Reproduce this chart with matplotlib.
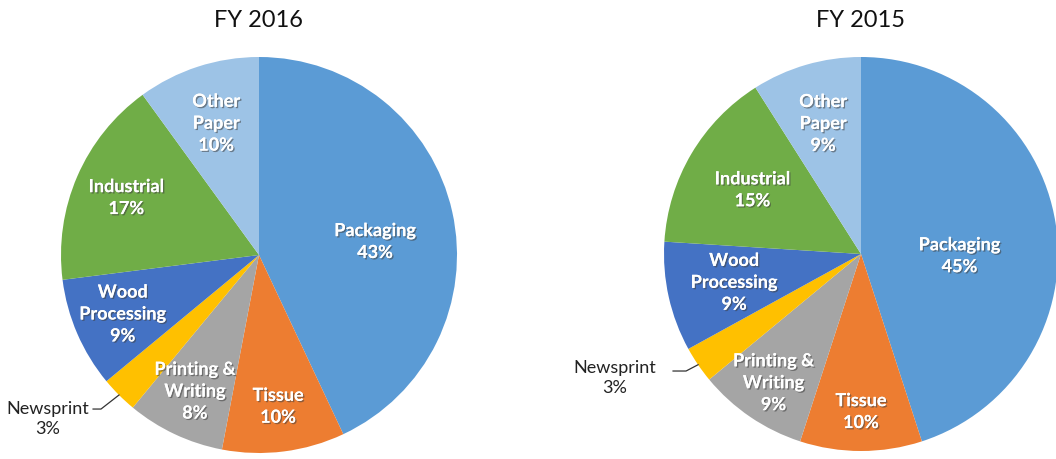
import matplotlib
matplotlib.use("Agg")
import matplotlib.pyplot as plt
import matplotlib.patheffects as pe
import numpy as np

# data
segments = ["Packaging", "Tissue", "Printing &\nWriting", "Newsprint",
            "Wood\nProcessing", "Industrial", "Other\nPaper"]
share_2016 = [43, 10, 8, 3, 9, 17, 10]
share_2015 = [45, 10, 9, 3, 9, 15, 9]
years = ["FY 2016", "FY 2015"]

colors = ["#5B9BD5", "#ED7D31", "#A5A5A5", "#FFC000", "#4472C4", "#70AD47", "#9DC3E6"]

plt.rcParams["font.family"] = ["Lato", "DejaVu Sans"]

fig = plt.figure(figsize=(10.56, 4.6), dpi=100)

# axes boxes in pixel terms (left, bottom, size) -> fractions
boxes = [(61, 6, 396), (664, 8, 394)]
# label radius per slice, angle nudge for big slice, outside label spot for Newsprint
label_r = [[0.59, 0.77, 0.76, None, 0.75, 0.73, 0.70],
           [0.50, 0.80, 0.79, None, 0.66, 0.64, 0.69]]
label_nudge = [-6, -10]
news_text = [(-1.066, -0.823), (-1.249, -0.624)]
news_line = [(-0.838, -0.778, -0.798), (-0.954, -0.594, -0.888)]

shadow = [pe.withSimplePatchShadow(offset=(1, -1), shadow_rgbFace="#404040", alpha=0.55),
          pe.Normal()]

for i, vals in enumerate([share_2016, share_2015]):
    x0, b0, s = boxes[i]
    ax = fig.add_axes([x0 / 1056, b0 / 460, s / 1056, s / 460])
    wedges, _ = ax.pie(vals, colors=colors, startangle=90, counterclock=False,
                       radius=1, wedgeprops=dict(linewidth=0))
    for w in wedges:
        w.set_clip_on(False)
    ax.set_xlim(-1, 1)
    ax.set_ylim(-1, 1)
    ax.set_aspect("equal")
    ax.axis("off")

    for j, w in enumerate(wedges):
        mid = np.deg2rad((w.theta1 + w.theta2) / 2)
        txt = "%s\n%d%%" % (segments[j], vals[j])
        if label_r[i][j] is None:
            tx, ty = news_text[i]
            ax.text(tx, ty, txt, ha="center", va="center", fontsize=13,
                    color="#222222", linespacing=1.35)
            sx, sy, ex = news_line[i]
            ax.plot([sx, ex, np.cos(mid)], [sy, sy, np.sin(mid)], color="#333333",
                    lw=0.9, clip_on=False)
            continue
        if j == 0:
            mid = mid + np.deg2rad(label_nudge[i])
        r = label_r[i][j]
        ax.text(r * np.cos(mid), r * np.sin(mid), txt, ha="center", va="center",
                fontsize=13, fontweight="bold", color="white", linespacing=1.35,
                path_effects=shadow)

    ax.text(0, 1.19, years[i], ha="center", va="center", fontsize=17, color="#111111")

fig.savefig("out.png", dpi=100)
